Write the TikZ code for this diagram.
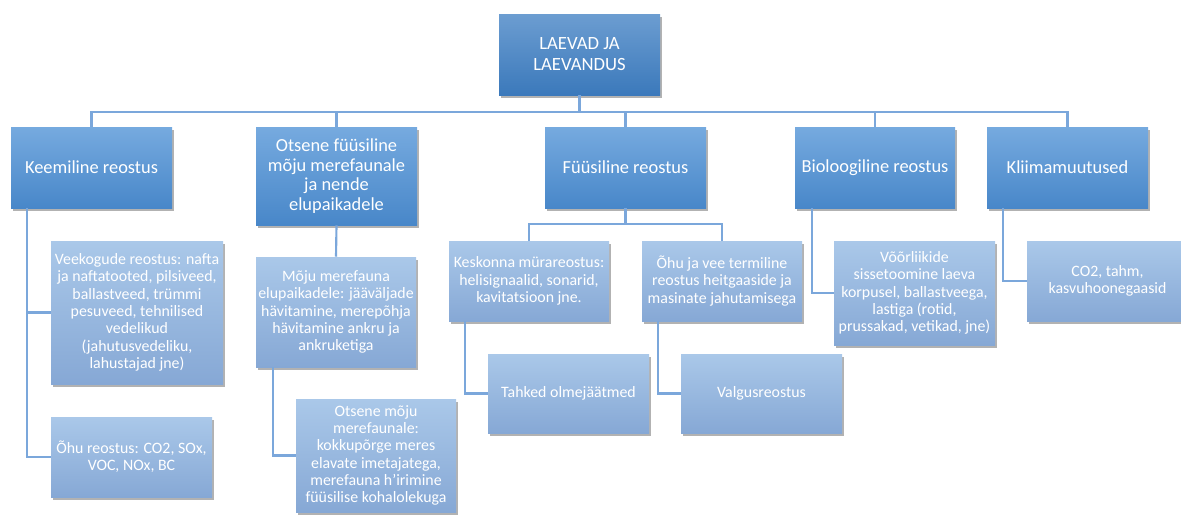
\documentclass[tikz,border=0pt]{standalone}
\usepackage{fontspec}
\setmainfont{Carlito}
\usetikzlibrary{calc,shadows}
\definecolor{rootTop}{HTML}{6C9DD1}
\definecolor{rootBot}{HTML}{3B79BB}
\definecolor{mainTop}{HTML}{76AADF}
\definecolor{mainBot}{HTML}{4887C9}
\definecolor{subTop}{HTML}{AAC8E9}
\definecolor{subBot}{HTML}{86A8D5}
\definecolor{linkblue}{HTML}{7BA7DB}

\begin{document}
\begin{tikzpicture}[x=0.75pt, y=-0.75pt,
    boxsize/.style 2 args={minimum width=#1*0.75pt, minimum height=#2*0.75pt},
    box/.style={rectangle, inner sep=0pt, align=center, text=white,
        drop shadow={shadow xshift=1.5pt, shadow yshift=-2pt, opacity=0.3, fill=black}},
    rootbox/.style={box, top color=rootTop, bottom color=rootBot, font=\fontsize{14}{15.8}\selectfont},
    mainbox/.style={box, top color=mainTop, bottom color=mainBot, font=\fontsize{13.8}{14.7}\selectfont},
    subbox/.style={box, top color=subTop, bottom color=subBot, font=\fontsize{11.9}{13}\selectfont},
    link/.style={draw=linkblue, line width=1.6pt}]
    \useasboundingbox (0,0) rectangle (1181,514);

    % Top
    \node[rootbox, boxsize={161}{81}] (root) at (579.5,54.5) {LAEVAD JA\\LAEVANDUS};

    % Level 1
    \node[mainbox, boxsize={161}{81}] (keem) at (91.5,167.5) {Keemiline reostus};
    \node[mainbox, boxsize={161}{98}] (otsene) at (336.5,176) {Otsene füüsiline\\mõju merefaunale\\ja nende\\elupaikadele};
    \node[mainbox, boxsize={161}{81}] (fyys) at (625.5,167.5) {Füüsiline reostus};
    \node[mainbox, boxsize={160}{81}] (bio) at (875,167.5) {Bioloogiline reostus};
    \node[mainbox, boxsize={161}{81}] (klii) at (1067.5,167.5) {Kliimamuutused};

    % Level 2
    \node[subbox, boxsize={172}{143}] (veek) at (137,312.5) {Veekogude reostus: nafta\\ja naftatooted, pilsiveed,\\ballastveed, trümmi\\pesuveed, tehnilised\\vedelikud\\(jahutusvedeliku,\\lahustajad jne)};
    \node[subbox, boxsize={161}{80}] (ohu) at (131.5,457) {Õhu reostus: CO2, SOx,\\VOC, NOx, BC};
    \node[subbox, boxsize={160}{110}] (moju) at (336,312) {Mõju merefauna\\elupaikadele: jääväljade\\hävitamine, merepõhja\\hävitamine ankru ja\\ankruketiga};
    \node[subbox, boxsize={160}{113}] (otsmoju) at (376,455.5) {Otsene mõju\\merefaunale:\\kokkupõrge meres\\elavate imetajatega,\\merefauna h'irimine\\füüsilise kohalolekuga};
    \node[subbox, boxsize={160}{80}] (kesk) at (529,281) {Keskonna mürareostus:\\helisignaalid, sonarid,\\kavitatsioon jne.};
    \node[subbox, boxsize={160}{80}] (ohuvee) at (722,281) {Õhu ja vee termiline\\reostus heitgaaside ja\\masinate jahutamisega};
    \node[subbox, boxsize={161}{79}] (tahked) at (568.5,393.5) {Tahked olmejäätmed};
    \node[subbox, boxsize={161}{79}] (valgus) at (761.5,393.5) {Valgusreostus};
    \node[subbox, boxsize={161}{104}] (voor) at (914.5,293) {Võõrliikide\\sissetoomine laeva\\korpusel, ballastveega,\\lastiga (rotid,\\prussakad, vetikad, jne)};
    \node[subbox, boxsize={161}{80}] (co2) at (1107.5,281) {CO2, tahm,\\kasvuhoonegaasid};

    % Connectors
    \foreach \n in {keem, otsene, fyys, bio, klii} {
        \draw[link] (root.south) -- ++(0,17) -| (\n.north);
    }
    \draw[link] ($(keem.south west)+(16,0)$) |- (veek.west);
    \draw[link] ($(keem.south west)+(16,0)$) |- (ohu.west);
    \draw[link] (otsene.south) -- (moju.north);
    \draw[link] ($(moju.south west)+(17,0)$) |- (otsmoju.west);
    \draw[link] (fyys.south) -- ++(0,16) -| (kesk.north);
    \draw[link] (fyys.south) -- ++(0,16) -| (ohuvee.north);
    \draw[link] ($(kesk.south west)+(16,0)$) |- (tahked.west);
    \draw[link] ($(ohuvee.south west)+(16,0)$) |- (valgus.west);
    \draw[link] ($(bio.south west)+(17,0)$) |- (voor.west);
    \draw[link] ($(klii.south west)+(16,0)$) |- (co2.west);
\end{tikzpicture}
\end{document}
